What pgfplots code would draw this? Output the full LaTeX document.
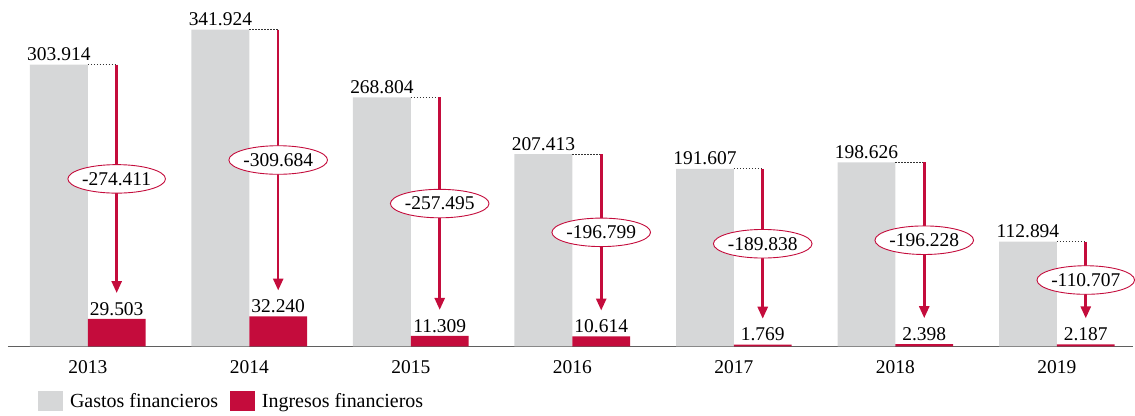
\documentclass[border=0pt]{standalone}
\usepackage{fontspec}
\setmainfont{Liberation Serif}
\usepackage{pgfplots}
\pgfplotsset{compat=1.18}
\usepackage{pgfplotstable}
\usetikzlibrary{arrows.meta, shapes.geometric}

\definecolor{gasto}{RGB}{214,215,216}
\definecolor{ingreso}{RGB}{196,12,60}
\definecolor{eje}{RGB}{95,95,95}

% gastos / ingresos financieros por año
\pgfplotstableread{
x gas     ing    diff
0 303.914 29.503 -274.411
1 341.924 32.240 -309.684
2 268.804 11.309 -257.495
3 207.413 10.614 -196.799
4 191.607 1.769  -189.838
5 198.626 2.398  -196.228
6 112.894 2.187  -110.707
}\datos

\newcommand{\fnt}{\fontsize{19.5}{21}\selectfont}

\begin{document}
\begin{tikzpicture}
\begin{axis}[
  name=ax,
  scale only axis,
  width=1127pt, height=347pt,
  xmin=-0.494, xmax=6.47,
  ymin=0, ymax=373.8,
  clip=false,
  axis x line=bottom, axis y line=none,
  x axis line style={-, draw=eje, line width=1.4pt},
  xtick={0,1,2,3,4,5,6},
  xticklabels={2013,2014,2015,2016,2017,2018,2019},
  major tick length=0pt,
  xticklabel style={font=\fnt, yshift=-11pt},
  /pgf/number format/assume math mode=true,
  legend columns=2,
  legend image code/.code={\fill[#1] (0pt,-10pt) rectangle (25pt,10pt);},
  legend style={at={(0.0266,-0.1585)}, anchor=west, draw=none, fill=none,
    inner sep=0pt, font=\fontsize{20}{22}\selectfont,
    /tikz/every odd column/.append style={column sep=5pt},
    /tikz/every even column/.append style={column sep=10pt}},
]
\addplot[ybar, bar width=0.358, bar shift=0, fill=gasto, draw=none,
  nodes near coords, point meta=explicit symbolic,
  nodes near coords style={font=\fnt, text=black}]
  table[x expr=\thisrow{x}-0.179, y=gas, meta=gas]{\datos};
\addlegendentry{Gastos financieros}
\addplot[ybar, bar width=0.358, bar shift=0, fill=ingreso, draw=none,
  nodes near coords, point meta=explicit symbolic,
  nodes near coords style={font=\fnt, text=black}]
  table[x expr=\thisrow{x}+0.179, y=ing, meta=ing]{\datos};
\addlegendentry{Ingresos financieros}

% linea punteada desde la barra gris hasta la flecha
\addplot[forget plot, black!80, line width=0.8pt, dash pattern=on 1.5pt off 1.5pt,
  quiver={u=0.179, v=0}] table[x=x, y=gas]{\datos};

% flecha de gasto a ingreso
\addplot[forget plot, ingreso, line width=2.6pt,
  -{Triangle[length=12pt, width=10pt]},
  quiver={u=0, v=\thisrow{ing}+28-\thisrow{gas}}]
  table[x expr=\thisrow{x}+0.179, y=gas]{\datos};

% diferencia en elipse
\addplot[forget plot, draw=none, mark=none,
  nodes near coords, point meta=explicit symbolic,
  nodes near coords align=center,
  nodes near coords style={ellipse, draw=ingreso, fill=white, line width=0.9pt,
    inner xsep=0pt, inner ysep=3.5pt, anchor=center, font=\fnt, text=black}]
  table[x expr=\thisrow{x}+0.179, y expr=(\thisrow{gas}+\thisrow{ing}+28)/2, meta=diff]{\datos};
\end{axis}
\path (ax.south west) ++(-8pt,-69pt) rectangle (ax.north east);
\end{tikzpicture}
\end{document}
